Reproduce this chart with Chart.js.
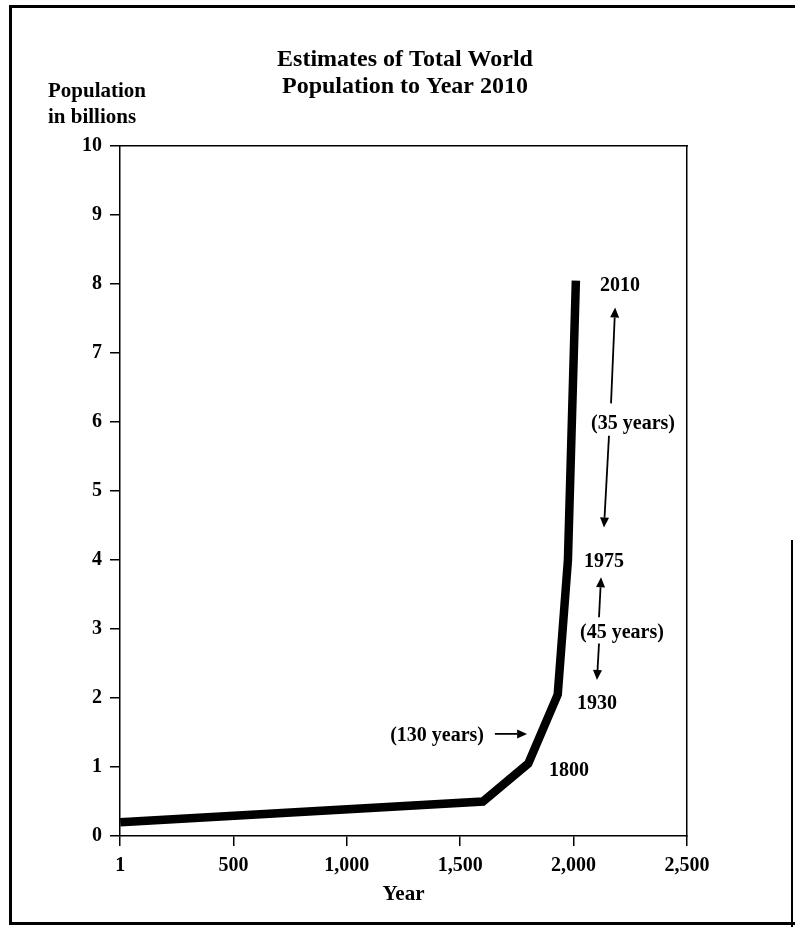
<!DOCTYPE html>
<html><head><meta charset="utf-8">
<script src="https://cdn.jsdelivr.net/npm/chart.js@4/dist/chart.umd.min.js"></script>
<style>
html,body{margin:0;padding:0;background:#fff;overflow:hidden;}
#wrap{position:relative;width:795px;height:927px;overflow:hidden;}
#frame{position:absolute;left:9px;top:5px;width:800px;height:920px;border-left:3px solid #000;border-top:3px solid #000;border-bottom:3px solid #000;box-sizing:border-box;pointer-events:none;}
#rline{position:absolute;left:791px;top:540px;width:2px;height:390px;background:#000;}
canvas{position:absolute;left:0;top:0;}
</style></head>
<body><div id="wrap"><canvas id="c" width="795" height="927"></canvas><div id="frame"></div><div id="rline"></div></div>
<script>
// ---- data ----
const years = [1, 1600, 1800, 1930, 1975, 2010];
const population = [0.2, 0.5, 1.05, 2.05, 4.0, 8.05];
const xTickValues = [1, 500, 1000, 1500, 2000, 2500];
const yTickValues = [0, 1, 2, 3, 4, 5, 6, 7, 8, 9, 10];
const titleLines = ['Estimates of Total World', 'Population to Year 2010'];
const yAxisLabel = ['Population', 'in billions'];
const xAxisLabel = 'Year';
// annotations (data coordinates: year, billions)
const noteTexts = ['2010', '(35 years)', '1975', '(45 years)', '1930', '(130 years)', '1800'];
const noteYears = [2205, 2262, 2134, 2213, 2103, 1398, 1980];
const noteValues = [7.97, 5.98, 3.97, 2.95, 1.92, 1.45, 0.94];
const arrowFromYears = [2165, 2156, 2112, 2112, 1653];
const arrowFromValues = [6.27, 5.80, 3.17, 2.79, 1.48];
const arrowToYears = [2183, 2134, 2121, 2103, 1795];
const arrowToValues = [7.66, 4.47, 3.75, 2.26, 1.48];

const FONT = '"Liberation Serif", "Times New Roman", serif';

const notesPlugin = {
  id: 'notes',
  afterDatasetsDraw(chart) {
    const {ctx, scales: {x, y}, chartArea} = chart;
    ctx.save();
    ctx.fillStyle = '#000';
    ctx.strokeStyle = '#000';
    ctx.font = 'bold 20px ' + FONT;
    ctx.textAlign = 'center';
    ctx.textBaseline = 'middle';
    noteTexts.forEach((t, i) => {
      ctx.fillText(t, x.getPixelForValue(noteYears[i]), y.getPixelForValue(noteValues[i]));
    });
    ctx.lineWidth = 1.8;
    arrowFromYears.forEach((_, i) => {
      const x1 = x.getPixelForValue(arrowFromYears[i]);
      const y1 = y.getPixelForValue(arrowFromValues[i]);
      const x2 = x.getPixelForValue(arrowToYears[i]);
      const y2 = y.getPixelForValue(arrowToValues[i]);
      const ang = Math.atan2(y2 - y1, x2 - x1);
      const L = 10, W = 4.5;
      const bx = x2 - L * Math.cos(ang), by = y2 - L * Math.sin(ang);
      ctx.beginPath();
      ctx.moveTo(x1, y1);
      ctx.lineTo(bx, by);
      ctx.stroke();
      ctx.beginPath();
      ctx.moveTo(x2, y2);
      ctx.lineTo(bx + W * Math.sin(ang), by - W * Math.cos(ang));
      ctx.lineTo(bx - W * Math.sin(ang), by + W * Math.cos(ang));
      ctx.closePath();
      ctx.fill();
    });
    ctx.font = 'bold 21px ' + FONT;
    ctx.textAlign = 'left';
    ctx.fillText(yAxisLabel[0], chartArea.left - 72, chartArea.top - 54);
    ctx.fillText(yAxisLabel[1], chartArea.left - 72, chartArea.top - 28);
    ctx.restore();
  }
};

new Chart(document.getElementById('c'), {
  type: 'line',
  data: {
    datasets: [{
      data: years.map((yr, i) => ({x: yr, y: population[i]})),
      borderColor: '#000',
      borderWidth: 8.5,
      pointRadius: 0,
      tension: 0,
      fill: false,
      borderCapStyle: 'butt',
      borderJoinStyle: 'miter'
    }]
  },
  options: {
    responsive: false,
    animation: false,
    devicePixelRatio: 1,
    layout: {padding: {left: 15, right: 0, top: 0, bottom: 0}},
    plugins: {
      legend: {display: false},
      tooltip: {enabled: false},
      title: {
        display: true,
        text: titleLines,
        color: '#000',
        font: {family: FONT, size: 24, weight: 'bold', lineHeight: 27 / 24},
        padding: {top: 46.5, bottom: 45.5}
      }
    },
    scales: {
      x: {
        type: 'linear',
        position: 'bottom',
        min: 0, max: 2500,
        afterBuildTicks: s => { s.ticks = xTickValues.map(v => ({value: v})); },
        afterFit: s => { s.height = 91; },
        grid: {drawOnChartArea: false, drawTicks: true, tickLength: 10, color: '#000', lineWidth: 1.5},
        border: {display: true, color: '#000', width: 1.5},
        ticks: {
          color: '#000', padding: 8, maxRotation: 0,
          font: {family: FONT, size: 20, weight: 'bold'},
          callback: v => v.toLocaleString('en-US')
        },
        title: {display: true, text: xAxisLabel, color: '#000', font: {family: FONT, size: 21, weight: 'bold'}, padding: {top: 0, bottom: 20}}
      },
      y: {
        type: 'linear',
        position: 'left',
        min: 0, max: 10,
        afterBuildTicks: s => { s.ticks = yTickValues.map(v => ({value: v})); },
        afterFit: s => { s.width = 105; },
        grid: {drawOnChartArea: false, drawTicks: true, tickLength: 10, color: '#000', lineWidth: 1.5},
        border: {display: true, color: '#000', width: 1.5},
        ticks: {color: '#000', padding: 8, font: {family: FONT, size: 20, weight: 'bold'}}
      },
      x2: {
        type: 'linear', position: 'top', display: true,
        grid: {display: false}, ticks: {display: false},
        border: {display: true, color: '#000', width: 1.5},
        afterFit: s => { s.height = 0; }
      },
      y2: {
        type: 'linear', position: 'right', display: true,
        grid: {display: false}, ticks: {display: false},
        border: {display: true, color: '#000', width: 1.5},
        afterFit: s => { s.width = 108; }
      }
    }
  },
  plugins: [notesPlugin]
});
</script>
</body></html>
